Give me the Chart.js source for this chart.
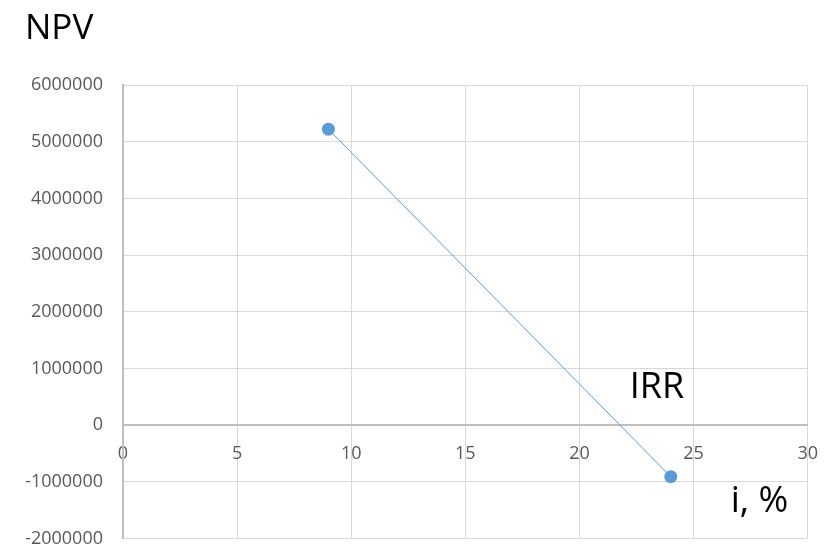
<!DOCTYPE html>
<html>
<head>
<meta charset="utf-8">
<script src="https://cdn.jsdelivr.net/npm/chart.js@4/dist/chart.umd.min.js"></script>
<style>
  html, body { margin: 0; padding: 0; background: #ffffff; }
  #wrap { width: 836px; height: 545px; position: relative; }
</style>
</head>
<body>
<div id="wrap"><canvas id="npvChart"></canvas></div>
<script>
// Discount rate (%) and the matching net present value
const rates = [9, 24];
const npvValues = [5220000, -910000];

// Axis ranges
const xTicks = [0, 5, 10, 15, 20, 25, 30];
const yTicks = [-2000000, -1000000, 0, 1000000, 2000000, 3000000, 4000000, 5000000, 6000000];

// Captions
const yTitle = 'NPV';
const xTitle = 'i, %';
const irrLabel = 'IRR';
const irrAnchor = { x: 22.2, y: 470000 };

const FONT = '"Open Sans", "Liberation Sans", sans-serif';
const GRID = '#d9d9d9';
const AXIS = '#bfbfbf';
const TICK = '#595959';
const LINE = '#5b9bd5';

const captions = {
  id: 'captions',
  afterDraw(chart) {
    const { ctx, chartArea, scales } = chart;
    ctx.save();
    ctx.fillStyle = '#000000';
    ctx.textBaseline = 'alphabetic';
    ctx.textAlign = 'left';
    ctx.font = '35px ' + FONT;
    ctx.fillText(yTitle, 25, 39);
    ctx.font = '36px ' + FONT;
    ctx.fillText(irrLabel, scales.x.getPixelForValue(irrAnchor.x), scales.y.getPixelForValue(irrAnchor.y));
    ctx.fillText(xTitle, chartArea.right - 77, chartArea.bottom - 27);
    ctx.restore();
  }
};

new Chart(document.getElementById('npvChart'), {
  type: 'scatter',
  data: {
    datasets: [{
      data: rates.map((r, i) => ({ x: r, y: npvValues[i] })),
      showLine: true,
      borderColor: LINE,
      backgroundColor: LINE,
      borderWidth: 1,
      pointRadius: 6.5,
      pointHoverRadius: 6.5,
      pointBorderWidth: 0,
      tension: 0
    }]
  },
  options: {
    responsive: true,
    maintainAspectRatio: false,
    animation: false,
    layout: { padding: { left: 0, top: 85, right: 23, bottom: 6 } },
    plugins: {
      legend: { display: false },
      tooltip: { enabled: false },
      title: { display: false }
    },
    scales: {
      x: {
        type: 'linear',
        position: { y: 0 },
        min: 0,
        max: 30,
        afterBuildTicks(scale) { scale.ticks = xTicks.map(v => ({ value: v })); },
        ticks: {
          autoSkip: false,
          maxRotation: 0,
          padding: 18,
          color: TICK,
          font: { family: FONT, size: 18 }
        },
        grid: { color: GRID, lineWidth: 1, drawTicks: false },
        border: { color: AXIS, width: 2 }
      },
      y: {
        type: 'linear',
        position: 'left',
        min: -2000000,
        max: 6000000,
        afterBuildTicks(scale) { scale.ticks = yTicks.map(v => ({ value: v })); },
        afterFit(scale) {
          scale.width = 123;
          scale.paddingTop = 0;
          scale.paddingBottom = 0;
        },
        ticks: {
          autoSkip: false,
          padding: 20,
          color: TICK,
          font: { family: FONT, size: 18 },
          callback: v => String(v)
        },
        grid: { color: GRID, lineWidth: 1, drawTicks: false },
        border: { color: AXIS, width: 2 }
      }
    }
  },
  plugins: [captions]
});
</script>
</body>
</html>
